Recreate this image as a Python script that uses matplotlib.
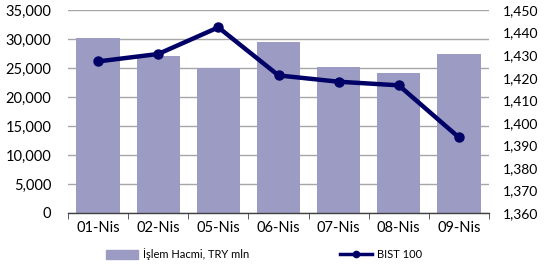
import numpy as np
import matplotlib
matplotlib.use("Agg")
import matplotlib.pyplot as plt
from matplotlib.ticker import FuncFormatter
from matplotlib.lines import Line2D
from matplotlib.patches import Patch

plt.rcParams["font.family"] = ["Lato", "DejaVu Sans"]

dates = ["01-Nis", "02-Nis", "05-Nis", "06-Nis", "07-Nis", "08-Nis", "09-Nis"]
volume = [30100, 27100, 25050, 29400, 25200, 24150, 27500]
bist100 = [1427.2, 1430.5, 1442.3, 1421.0, 1418.2, 1416.6, 1393.5]

bar_color = "#9b9bc3"
line_color = "#000066"

fig = plt.figure(figsize=(5.44, 2.67), dpi=100)
ax = fig.add_axes([68 / 544, 1 - 213 / 267, 421 / 544, 203 / 267])
x = np.arange(len(dates))

ax.bar(x, volume, width=0.72, color=bar_color, zorder=2)
ax.set_ylim(0, 35000)
ax.set_xlim(-0.5, len(dates) - 0.5)
ax.set_yticks(np.arange(0, 35001, 5000))
ax.yaxis.set_major_formatter(FuncFormatter(lambda v, p: f"{int(v):,}"))
ax.grid(axis="y", color="#a6a6a6", linewidth=1, zorder=0)
ax.set_axisbelow(True)
for s in ["top", "right", "left"]:
    ax.spines[s].set_visible(False)
ax.spines["bottom"].set_color("#404040")
ax.spines["bottom"].set_linewidth(1)
ax.set_xticks(x)
ax.set_xticklabels(dates, fontsize=10.5)
ax.set_xticks(np.arange(-0.5, len(dates), 1), minor=True)
ax.tick_params(axis="x", which="major", length=0, pad=6)
ax.tick_params(axis="x", which="minor", length=4, color="#404040", direction="out")
ax.tick_params(axis="y", length=0, labelsize=10.5, pad=12)

ax2 = ax.twinx()
ax2.plot(x, bist100, color=line_color, linewidth=3.2, marker="o", markersize=6.5, zorder=3)
ax2.set_ylim(1360, 1450)
ax2.set_yticks(np.arange(1360, 1451, 10))
ax2.yaxis.set_major_formatter(FuncFormatter(lambda v, p: f"{int(v):,}"))
for s in ["top", "right", "left", "bottom"]:
    ax2.spines[s].set_visible(False)
ax2.tick_params(axis="y", length=0, labelsize=10, pad=10)

h_bar = Patch(color=bar_color)
h_line = Line2D([], [], color=line_color, linewidth=2.5, marker="o", markersize=4.5)
fig.legend([h_bar, h_line], ["İşlem Hacmi, TRY mln", "BIST 100"], loc="center",
           bbox_to_anchor=(264 / 544, 1 - 254 / 267), ncol=2, frameon=False,
           fontsize=8, columnspacing=8.2, handlelength=2.9, handletextpad=0.4,
           handleheight=0.9)

fig.savefig("out.png", dpi=100)
